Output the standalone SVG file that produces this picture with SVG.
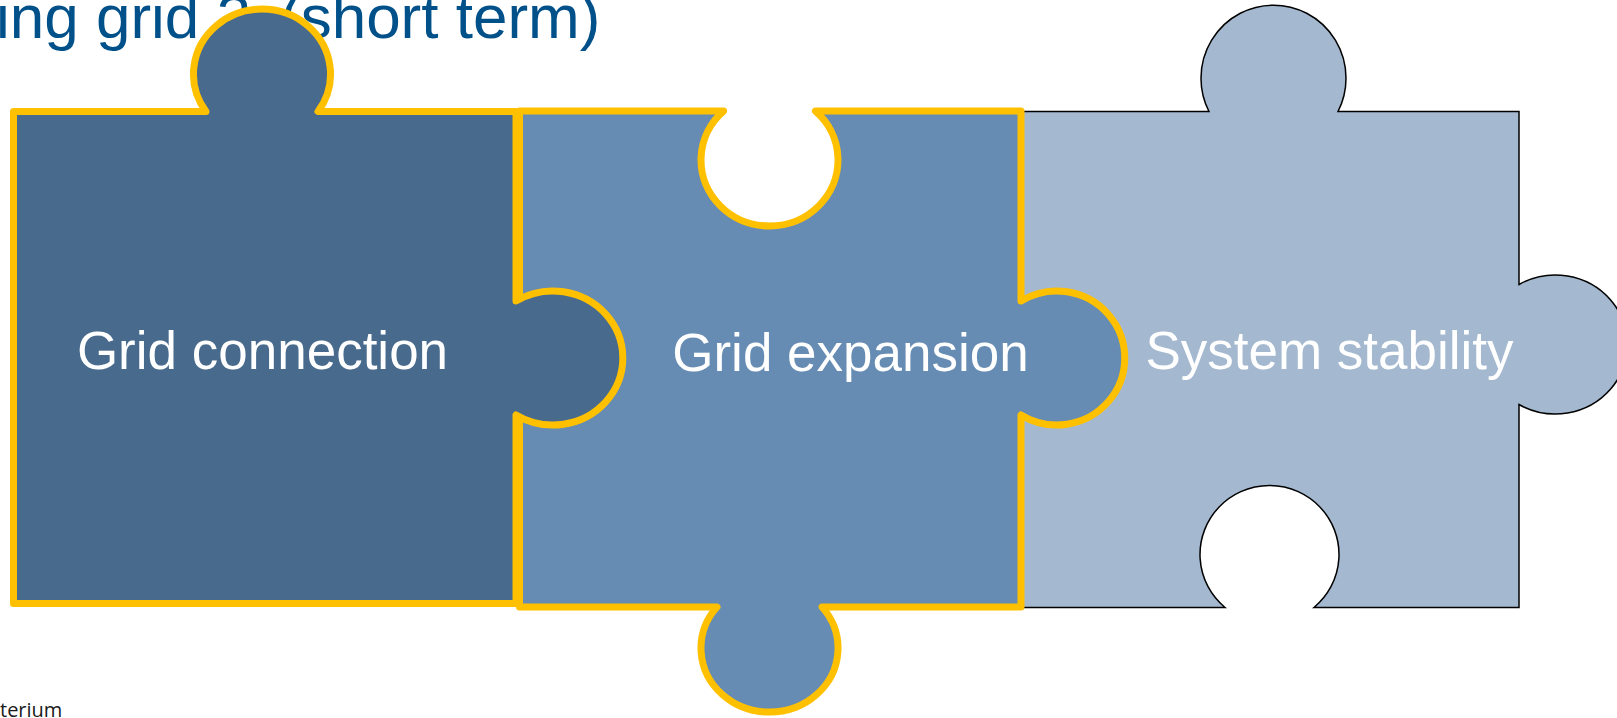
<svg xmlns="http://www.w3.org/2000/svg" width="1617" height="718" viewBox="0 0 1617 718">
  <style>
    .title { font-family: "Liberation Sans", Arial, sans-serif; font-size: 62px; fill: #00508a; }
    .label { font-family: "Liberation Sans", Arial, sans-serif; font-size: 53px; fill: #ffffff; text-anchor: middle; }
    .yel { stroke: #ffc000; stroke-width: 7; stroke-linejoin: round; stroke-linecap: round; }
    .blk { stroke: #000000; stroke-width: 1.5; stroke-linejoin: miter; }
    .foot { font-family: "Open Sans", "Liberation Sans", sans-serif; font-size: 20px; fill: #1a1a1a; }
  </style>
  <rect width="1617" height="718" fill="#ffffff"/>
  <g id="title">
    <text class="title" x="-4" y="38">ing grid 2<tspan x="280">(short term)</tspan></text>
  </g>
  <g id="piece-system-stability">
    <path class="blk" fill="#a4b9d0" d="M 1021 111.5 L 1209 111.5 A 72.5 73 0 1 1 1338 111.5 L 1519 111.5 L 1519 284.5 A 72 69.5 0 1 1 1519 404.5 L 1519 607.5 L 1314 607.5 A 69.5 69 0 1 0 1225 607.5 L 1021 607.5 Z"/>
    <text class="label" x="1329.5" y="369">System stability</text>
  </g>
  <g id="piece-grid-expansion">
    <path class="yel" fill="#668cb3" d="M 519.5 111 L 723.6 111 A 68.5 66 0 1 0 815.4 111 L 1021 111 L 1021 301 A 68 67 0 1 1 1021 415 L 1021 607 L 822 607 A 68.5 64 0 1 1 717 607 L 519.5 607 Z"/>
    <text class="label" x="850.5" y="371">Grid expansion</text>
  </g>
  <g id="piece-grid-connection">
    <path class="yel" fill="#476a8d" d="M 13.5 111.5 L 206 111.5 A 68.5 65 0 1 1 318 111.5 L 516 111.5 L 516 301 A 70 67 0 1 1 516 415 L 516 603.5 L 13.5 603.5 Z"/>
    <text class="label" x="262.5" y="369">Grid connection</text>
  </g>
  <g id="connectors"></g>
  <text class="foot" x="0" y="717">terium</text>
</svg>
